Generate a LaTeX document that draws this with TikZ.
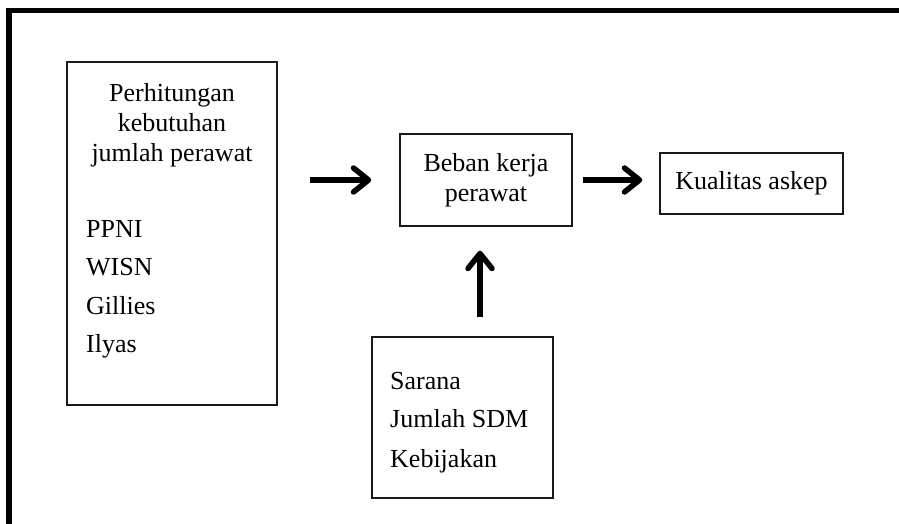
\documentclass[tikz,border=0pt]{standalone}
\usepackage{fontspec}
\setmainfont{Liberation Serif}
\usetikzlibrary{positioning,arrows.meta}

\begin{document}
\begin{tikzpicture}[x=1pt, y=1pt, font=\fontsize{26}{30}\selectfont,
    kotak/.style={draw=black!90, line width=1.5pt, inner sep=0pt},
    isi/.style={inner sep=0pt, anchor=base west},
    panah/.style={line width=5.5pt, -{Straight Barb[length=15pt, width=24pt, round]}}]
    \useasboundingbox (0,0) rectangle (899,524);
    % frame, only top and left are visible
    \draw[line width=5.5pt, line join=miter] (9,0) -- (9,513.5) -- (899,513.5);

    \node[kotak, minimum width=210pt, minimum height=343pt] (hitung) at (172,290.5) {};
    \node[inner sep=0pt, align=center, below=22pt of hitung.north] (judul)
      {Perhitungan\\ kebutuhan\\ jumlah perawat};
    \node[isi] (ppni) at (86,286) {PPNI};
    \node[isi] (wisn) at (86,248) {WISN};
    \node[isi] (gillies) at (86,209) {Gillies};
    \node[isi] (ilyas) at (86,171) {Ilyas};

    \node[kotak, minimum width=172pt, minimum height=92pt, align=center] (beban) at (486,344)
      {Beban kerja\\ perawat};
    \node[kotak, minimum width=183pt, minimum height=61pt] (kualitas) at (751.5,340.5) {Kualitas askep};

    \node[kotak, minimum width=181pt, minimum height=161pt] (faktor) at (462.5,106.5) {};
    \node[isi] (sarana) at (390,134) {Sarana};
    \node[isi] (sdm) at (390,96) {Jumlah SDM};
    \node[isi] (kebijakan) at (390,56) {Kebijakan};

    \draw[panah, shorten <=32pt, shorten >=28pt] (hitung.east |- beban.west) -- (beban.west);
    \draw[panah, shorten <=10pt, shorten >=17pt] (beban.east) -- (beban.east -| kualitas.west);
    \draw[panah, shorten <=19pt, shorten >=24pt] ([xshift=-6pt]beban.south |- faktor.north) -- ([xshift=-6pt]beban.south);
  \end{tikzpicture}
\end{document}
